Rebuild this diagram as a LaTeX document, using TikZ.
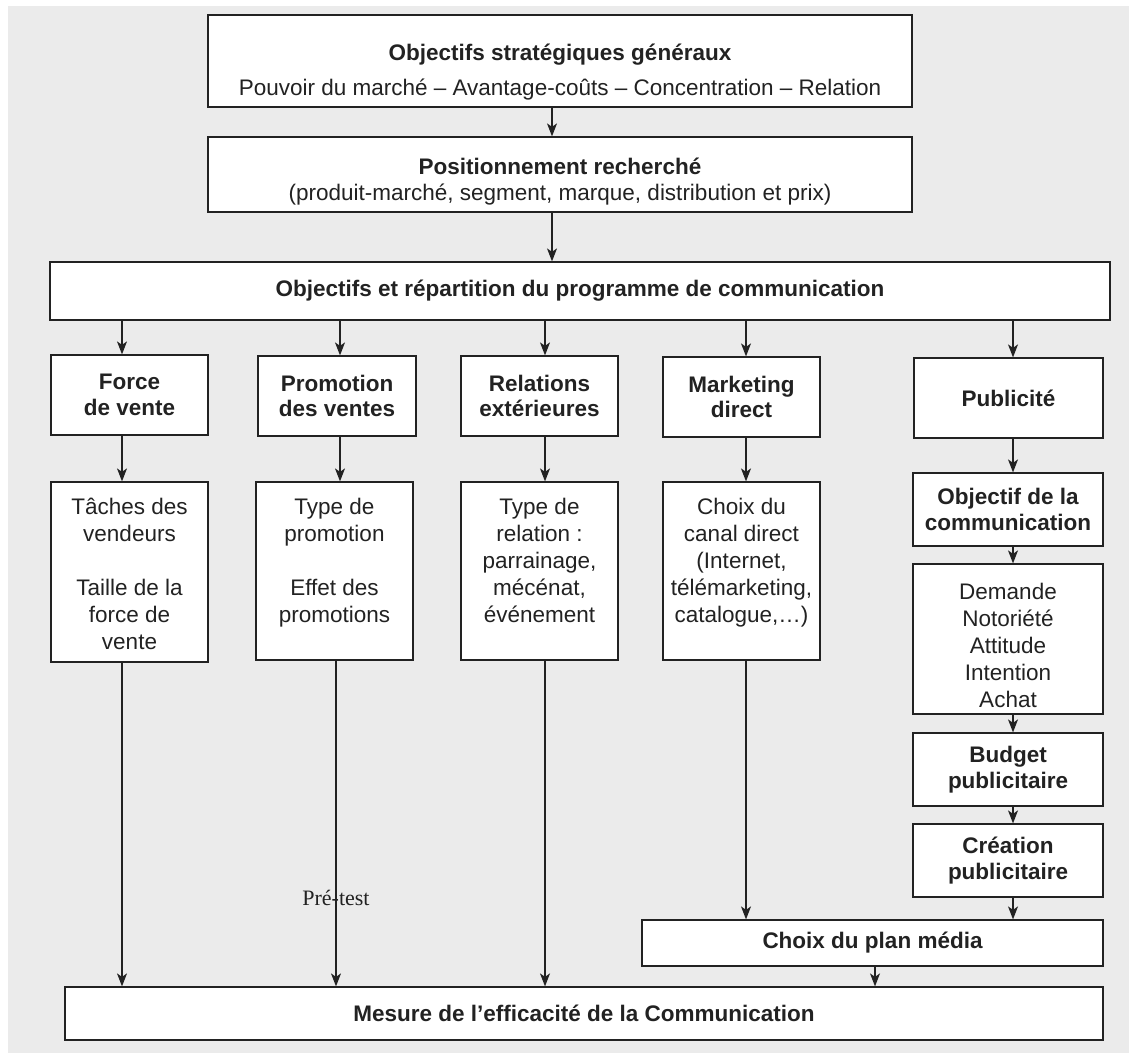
\documentclass[tikz,border=0pt]{standalone}
\usepackage{fontspec}
\setmainfont{Liberation Sans}
\newfontfamily\seriffont{Liberation Serif}
\usetikzlibrary{arrows.meta}
\definecolor{bg}{HTML}{EBEBEB}
\definecolor{ink}{HTML}{222222}
\newcommand\tbox[4]{\parbox[c][#2][t]{#1}{\centering\vspace*{#3}#4}}
\begin{document}
\begin{tikzpicture}[x=1pt,y=-1pt,
  box/.style={draw=ink, fill=white, line width=1.25pt, inner sep=0pt, align=center, text=ink,
    font=\fontsize{22.5}{27}\selectfont},
  bbox/.style={box, font=\fontsize{22.5}{25.5}\selectfont\bfseries},
  arr/.style={draw=ink, line width=1.25pt, -{Stealth[length=13pt,width=10pt,inset=3.5pt]}},
  ln/.style={draw=ink, line width=1.25pt}]
\useasboundingbox (0,0) rectangle (1129,1053);
\fill[white] (0,0) rectangle (1129,1053);
\fill[bg] (8,6) rectangle (1129,1053);

% columns
\coordinate (cT) at (552,0);
\coordinate (cA) at (122,0);
\coordinate (cB) at (340,0);
\coordinate (cBl) at (336,0);
\coordinate (cC) at (545,0);
\coordinate (cD) at (746,0);
\coordinate (cE) at (1013,0);
\coordinate (cP) at (875,0);

\node[box] (b1) at (560,61)
  {\tbox{704pt}{92pt}{29pt}{{\bfseries Objectifs stratégiques généraux}\\[8pt]Pouvoir du marché – Avantage-coûts – Concentration – Relation}};
\node[box] (b2) at (560,174.5)
  {\tbox{704pt}{75pt}{21pt}{{\bfseries Positionnement recherché}\\[-1pt](produit-marché, segment, marque, distribution et prix)}};
\node[bbox, minimum width=1060pt, minimum height=58pt] (b3) at (580,291)
  {Objectifs et répartition du programme de communication};

\node[bbox, minimum width=157pt, minimum height=80pt] (f1) at (129.5,395) {Force\\de vente};
\node[bbox, minimum width=158pt, minimum height=80pt] (p1) at (337,396) {Promotion\\des ventes};
\node[bbox, minimum width=157pt, minimum height=80pt] (r1) at (539.5,396) {Relations\\extérieures};
\node[bbox, minimum width=157pt, minimum height=80pt] (m1) at (741.5,397) {Marketing\\direct};
\node[bbox, minimum width=189pt, minimum height=80pt] (pub) at (1008.5,398) {Publicité};

\node[box] (f2) at (129.5,572) {\tbox{157pt}{180pt}{16pt}{Tâches des\\vendeurs\\[27pt]Taille de la\\force de\\vente}};
\node[box] (p2) at (334.5,571) {\tbox{157pt}{178pt}{16pt}{Type de\\promotion\\[27pt]Effet des\\promotions}};
\node[box] (r2) at (539.5,571) {\tbox{157pt}{178pt}{16pt}{Type de\\relation :\\parrainage,\\mécénat,\\événement}};
\node[box] (m2) at (741.5,571) {\tbox{157pt}{178pt}{16pt}{Choix du\\canal direct\\(Internet,\\télémarketing,\\catalogue,…)}};

\node[bbox, minimum width=190pt, minimum height=73pt] (obj) at (1008,509.5) {Objectif de la\\communication};
\node[box] (dem) at (1008,639) {\tbox{190pt}{150pt}{19pt}{Demande\\Notoriété\\Attitude\\Intention\\Achat}};
\node[bbox, minimum width=190pt, minimum height=73pt] (bud) at (1008,769.5) {Budget\\publicitaire};
\node[bbox, minimum width=190pt, minimum height=73pt] (cre) at (1008,860.5) {Création\\publicitaire};
\node[bbox, minimum width=461pt, minimum height=46pt] (plan) at (872.5,943) {Choix du plan média};
\node[bbox, minimum width=1038pt, minimum height=53pt] (mes) at (584,1013.5) {Mesure de l’efficacité de la Communication};

% connectors
\draw[arr] (b1.south -| cT) -- (b2.north -| cT);
\draw[arr] (b2.south -| cT) -- (b3.north -| cT);
\draw[arr] (b3.south -| cA) -- (f1.north -| cA);
\draw[arr] (b3.south -| cB) -- (p1.north -| cB);
\draw[arr] (b3.south -| cC) -- (r1.north -| cC);
\draw[arr] (b3.south -| cD) -- (m1.north -| cD);
\draw[arr] (b3.south -| cE) -- (pub.north -| cE);

\draw[arr] (f1.south -| cA) -- (f2.north -| cA);
\draw[arr] (p1.south -| cB) -- (p2.north -| cB);
\draw[arr] (r1.south -| cC) -- (r2.north -| cC);
\draw[arr] (m1.south -| cD) -- (m2.north -| cD);
\draw[arr] (pub.south -| cE) -- (obj.north -| cE);
\draw[arr] (obj.south -| cE) -- (dem.north -| cE);
\draw[arr] (dem.south -| cE) -- (bud.north -| cE);
\draw[arr] (bud.south -| cE) -- (cre.north -| cE);
\draw[arr] (cre.south -| cE) -- (plan.north -| cE);
\draw[arr] (plan.south -| cP) -- (mes.north -| cP);

\draw[arr] (f2.south -| cA) -- (mes.north -| cA);
\draw[arr] (p2.south -| cBl) -- (mes.north -| cBl);
\draw[arr] (r2.south -| cC) -- (mes.north -| cC);
\draw[arr] (m2.south -| cD) -- (plan.north -| cD);

\node[font=\seriffont\fontsize{22}{22}\selectfont, text=ink, inner sep=0pt] (pt) at (336,898) {Pré-test};
\draw[draw=ink, line width=2pt] (pt.south) ++(0,6) -- ++(0,30);
\end{tikzpicture}
\end{document}
